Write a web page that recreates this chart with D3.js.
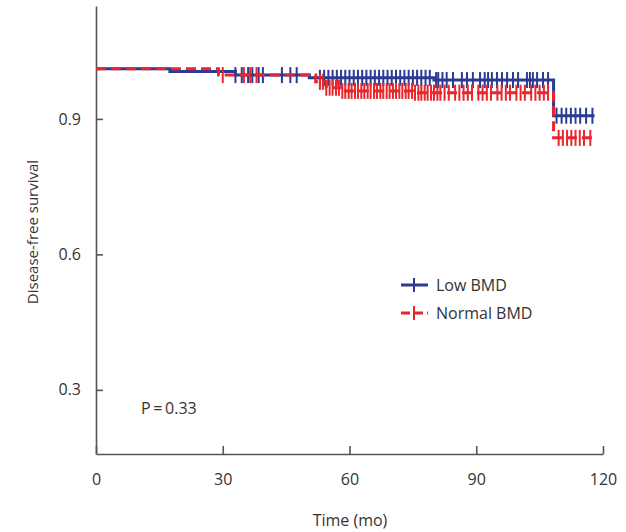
<!DOCTYPE html>
<html>
<head>
<meta charset="utf-8">
<script src="https://cdn.jsdelivr.net/npm/d3@7"></script>
<style>
  body { margin: 0; background: #fff; }
  text { font-family: "Open Sans", "Noto Sans", sans-serif; fill: #333; }
  .narrow { font-family: "Liberation Sans Narrow", "Open Sans", sans-serif; }
</style>
</head>
<body>
<div id="container"></div>
<script>
// step times (months) and survival after each step
var lowTimes = [0, 17.5, 33, 50.5, 80, 108.3, 118];
var lowSurv = [1.011, 1.005, 0.997, 0.991, 0.986, 0.907, 0.907];
var normTimes = [0, 29, 52, 54.5, 58, 75, 108.3, 117.5];
var normSurv = [1.011, 0.997, 0.982, 0.969, 0.962, 0.958, 0.858, 0.858];

// censored observations (months)
var lowCensor = [33, 34.5, 36, 37, 38.5, 39.5, 44, 46, 47.5, 53, 54, 55, 56, 57, 58, 59, 60, 61, 62, 63,
  64, 65, 66, 67, 68, 69, 70, 71, 72, 73, 74, 75, 76, 77, 78, 79, 80.5, 81, 82, 83, 84.5, 86.6, 87.8,
  89.2, 90.9, 92, 92.8, 93.7, 94.9, 96.1, 97.3, 98.7, 99.9, 102, 102.7, 103.4, 104.4, 105.8, 107,
  109, 110.2, 111.3, 112.4, 113.5, 114.6, 116, 117.5];
var normCensor = [30, 35, 36.5, 38, 53, 53.7, 54.5, 55.3, 56, 56.8, 57.5, 58.3, 59, 59.8, 60.5, 61.3,
  62, 62.8, 63.5, 64.3, 65, 65.8, 66.5, 67.3, 68, 68.8, 69.5, 70.3, 71, 71.8, 72.5, 73.3, 74, 74.8,
  75.5, 76.3, 77, 77.8, 78.5, 79.3, 80, 80.8, 81.5, 82.5, 83.5, 85, 86, 87, 88, 89, 90.5, 91.5, 92.5,
  93.5, 95, 96, 97, 98, 99.5, 100.5, 101.5, 103, 104, 105, 106, 107, 109.5, 110.5, 111.5, 112.5,
  113.5, 114.5, 115.5, 117];

var xTicks = [0, 30, 60, 90, 120];
var yTicks = [0.3, 0.6, 0.9];
var groups = ["Low BMD", "Normal BMD"];
var colors = ["#2b3a92", "#e8262c"];

const width = 626, height = 532;

const x = d3.scaleLinear().domain([0, 120]).range([96, 603]);
const y = d3.scaleLinear().domain([0.158, 1.15]).range([454, 6]);

const svg = d3.select("#container")
  .append("svg")
    .attr("width", width)
    .attr("height", height);

// y-axis
const yAxis = svg.append("g")
  .attr("transform", "translate(96,0)")
  .call(d3.axisLeft(y).tickValues(yTicks).tickSize(-7).tickSizeOuter(0)
    .tickPadding(15).tickFormat(d3.format(".1f")));

// x-axis
const xAxis = svg.append("g")
  .attr("transform", "translate(0,454)")
  .call(d3.axisBottom(x).tickValues(xTicks).tickSize(-8).tickSizeOuter(0).tickPadding(20));

[xAxis, yAxis].forEach(a => {
  a.selectAll("path, line").attr("stroke", "#555").attr("stroke-width", 1.6);
  a.selectAll("text").attr("font-size", 16).attr("fill", "#333")
    .style("font-family", "'Open Sans', sans-serif");
});

svg.append("text")
  .attr("class", "narrow")
  .attr("x", 350).attr("y", 526)
  .attr("text-anchor", "middle")
  .attr("font-size", 16)
  .text("Time (mo)");

svg.append("text")
  .attr("transform", "translate(38,232)rotate(-90)")
  .attr("text-anchor", "middle")
  .attr("font-size", 15)
  .text("Disease-free survival");

svg.append("text")
  .attr("class", "narrow")
  .attr("x", 141).attr("y", 414)
  .attr("font-size", 16)
  .text("P\u2009=\u20090.33");

function stepLookup(times, surv, t) {
  var i = d3.bisectRight(times, t) - 1;
  return surv[Math.max(0, i)];
}

const line = d3.line()
  .x(d => x(d[0]))
  .y(d => y(d[1]))
  .curve(d3.curveStepAfter);

var series = [
  {times: lowTimes, surv: lowSurv, censor: lowCensor, color: colors[0], dash: null},
  {times: normTimes, surv: normSurv, censor: normCensor, color: colors[1], dash: "10,5"}
];

series.forEach(s => {
  var pts = s.times.map((t, i) => [t, s.surv[i]]);
  svg.append("path")
    .datum(pts)
    .attr("fill", "none")
    .attr("stroke", s.color)
    .attr("stroke-width", 3)
    .attr("stroke-dasharray", s.dash)
    .attr("d", line);

  svg.append("g")
    .selectAll("line")
    .data(s.censor)
    .join("line")
      .attr("x1", d => x(d))
      .attr("x2", d => x(d))
      .attr("y1", d => y(stepLookup(s.times, s.surv, d)) - 8)
      .attr("y2", d => y(stepLookup(s.times, s.surv, d)) + 8)
      .attr("stroke", s.color)
      .attr("stroke-width", 2);
});

// legend
const legend = svg.append("g")
  .selectAll("g")
  .data(groups)
  .join("g")
    .attr("transform", (d, i) => "translate(401," + (285 + i * 28) + ")");

legend.append("line")
  .attr("x1", 0).attr("x2", 27)
  .attr("stroke", (d, i) => colors[i])
  .attr("stroke-width", 3)
  .attr("stroke-dasharray", (d, i) => i == 1 ? "9,4" : null);

legend.append("line")
  .attr("x1", 13).attr("x2", 13).attr("y1", -7).attr("y2", 7)
  .attr("stroke", (d, i) => colors[i])
  .attr("stroke-width", 2);

legend.append("text")
  .attr("x", 35).attr("dy", "0.35em")
  .attr("font-size", 16)
  .text(d => d);
</script>
</body>
</html>
